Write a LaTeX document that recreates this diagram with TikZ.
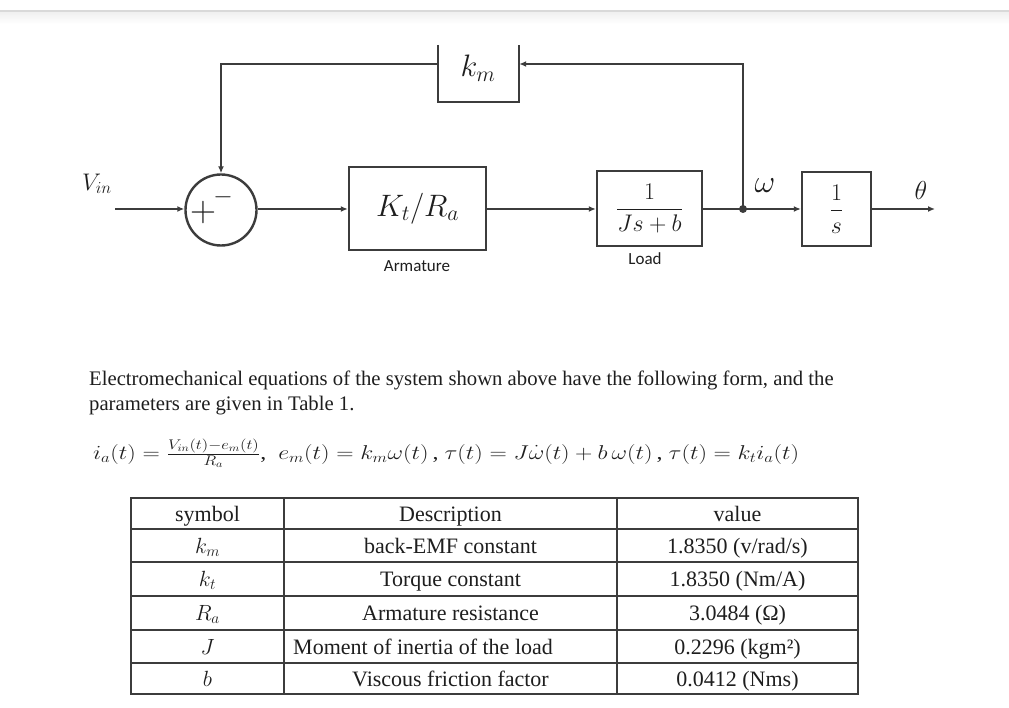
\RequirePackage{fix-cm}
\documentclass[tikz,border=0pt]{standalone}
\usepackage{amsmath}
\usepackage{graphicx}
\usepackage{fontspec}
\setmainfont{Liberation Serif}
\newfontfamily\calibfont{Carlito}
\usetikzlibrary{arrows.meta}
\definecolor{ln}{HTML}{3C3C3C}
\definecolor{tx}{HTML}{1E1E1E}
\begin{document}
\begin{tikzpicture}[x=1pt,y=-1pt,
 blk/.style={draw=ln,line width=2.4pt,inner sep=0pt,text=tx},
 con/.style={draw=ln,line width=2pt,-{Latex[length=7pt,width=6pt]}},
 wire/.style={draw=ln,line width=2pt},
 lbl/.style={inner sep=0pt,text=tx},
 small/.style={inner sep=0pt,text=tx,font=\calibfont\fontsize{17}{17}\selectfont},
 cell/.style={inner sep=0pt,anchor=base,text=tx,font=\fontsize{22}{24}\selectfont},
 grid/.style={draw=ln,line width=1.4pt}]
\useasboundingbox (0,0) rectangle (1009,708);
\fill[white] (0,0) rectangle (1009,708);
\shade[top color=gray!12,bottom color=white] (0,12) rectangle (1009,24);
\draw[gray!30,line width=1.5pt] (0,11) -- (1009,11);

% ---------- block diagram ----------
\node[blk,circle,minimum size=71pt] (sum) at (221,210) {};
\node[lbl,font=\fontsize{36}{36}\selectfont] (plus) at (203,213) {$+$};
\node[lbl,font=\fontsize{25}{25}\selectfont] (minus) at (223,197) {$-$};

\node[blk,minimum width=137pt,minimum height=83pt] (arm) at (417.5,208.5)
  {\fontsize{31}{31}\selectfont $K_t/R_a$};
\node[blk,minimum width=105pt,minimum height=75pt] (load) at (649.5,208.5)
  {\fontsize{24}{24}\selectfont $\dfrac{1}{Js+b}$};
\node[blk,minimum width=69pt,minimum height=74pt] (integ) at (836.5,209)
  {\fontsize{24}{24}\selectfont $\dfrac{1}{s}$};
\node[inner sep=0pt,minimum width=81pt,minimum height=57pt] (km) at (478.5,73.5) {};
\draw[ln,line width=2.4pt] (km.north west) -- (km.south west) -- (km.south east) -- (km.north east);
\node[lbl,font=\fontsize{31}{31}\selectfont] (kmtxt) at (478,68) {$k_m$};

\node[small] (armlbl) at (417,266) {Armature};
\node[small] (loadlbl) at (645,259) {Load};

\node[lbl,font=\fontsize{24}{24}\selectfont] (vinlbl) at (97,184) {$V_{in}$};
\node[lbl,font=\fontsize{32}{32}\selectfont] (omlbl) at (765,186) {$\omega$};
\node[lbl,font=\fontsize{26}{26}\selectfont] (thlbl) at (921,190) {$\theta$};

\coordinate (vin) at (115,209);
\coordinate (jn) at (743,209);
\coordinate (thend) at (935,209);
\coordinate (fbr) at (743,64);
\draw[con] (vin) -- (sum.west |- vin);
\draw[con] (sum.east |- vin) -- (arm.west |- vin);
\draw[con] (arm.east |- vin) -- (load.west |- vin);
\draw[wire] (load.east |- vin) -- (jn);
\draw[con] (jn) -- (integ.west |- jn);
\draw[con] (integ.east |- jn) -- (thend);
\fill[ln] (jn) circle (4pt);
\draw[con] (jn) -- (fbr) -- (km.east |- fbr);
\draw[con] (km.west |- fbr) -- (sum.north |- fbr) -- (sum.north);

% ---------- text ----------
\node[lbl,anchor=base west,font=\fontsize{20.7}{25}\selectfont] (p1) at (89,385)
  {Electromechanical equations of the system shown above have the following form, and the};
\node[lbl,anchor=base west,font=\fontsize{20.7}{25}\selectfont] (p2) at (89,410)
  {parameters are given in Table 1.};
\node[lbl,anchor=base west,font=\fontsize{20}{24}\selectfont] (eq) at (93,459)
  {\resizebox{706pt}{\height}{$i_a(t)=\frac{V_{in}(t)-e_m(t)}{R_a}$,\ \ $e_m(t)=k_m\omega(t)$\,,\ $\tau(t)=J\dot{\omega}(t)+b\,\omega(t)$\,,\ $\tau(t)=k_t i_a(t)$}};

% ---------- table ----------
\draw[grid] (131,498) rectangle (858,694);
\foreach \yy in {529,562,596,630,663} \draw[grid] (131,\yy) -- (858,\yy);
\draw[grid] (284,498) -- (284,694);
\draw[grid] (617,498) -- (617,694);

\node[cell] (h1) at (207.5,521) {symbol};
\node[cell] (h2) at (450.5,521) {Description};
\node[cell] (h3) at (737.5,521) {value};

\node[cell] (s1) at (207.5,553) {$k_m$};
\node[cell] (d1) at (450.5,553) {back-EMF constant};
\node[cell] (v1) at (737.5,553) {1.8350 (v/rad/s)};

\node[cell] (s2) at (207.5,586) {$k_t$};
\node[cell] (d2) at (450.5,586) {Torque constant};
\node[cell] (v2) at (737.5,586) {1.8350 (Nm/A)};

\node[cell] (s3) at (207.5,620) {$R_a$};
\node[cell] (d3) at (450.5,620) {Armature resistance};
\node[cell] (v3) at (737.5,620) {3.0484 (Ω)};

\node[cell] (s4) at (207.5,654) {$J$};
\node[cell,anchor=base west] (d4) at (293,654) {Moment of inertia of the load};
\node[cell] (v4) at (737.5,654) {0.2296 (kgm²)};

\node[cell] (s5) at (207.5,686) {$b$};
\node[cell] (d5) at (450.5,686) {Viscous friction factor};
\node[cell] (v5) at (737.5,686) {0.0412 (Nms)};
\end{tikzpicture}
\end{document}
